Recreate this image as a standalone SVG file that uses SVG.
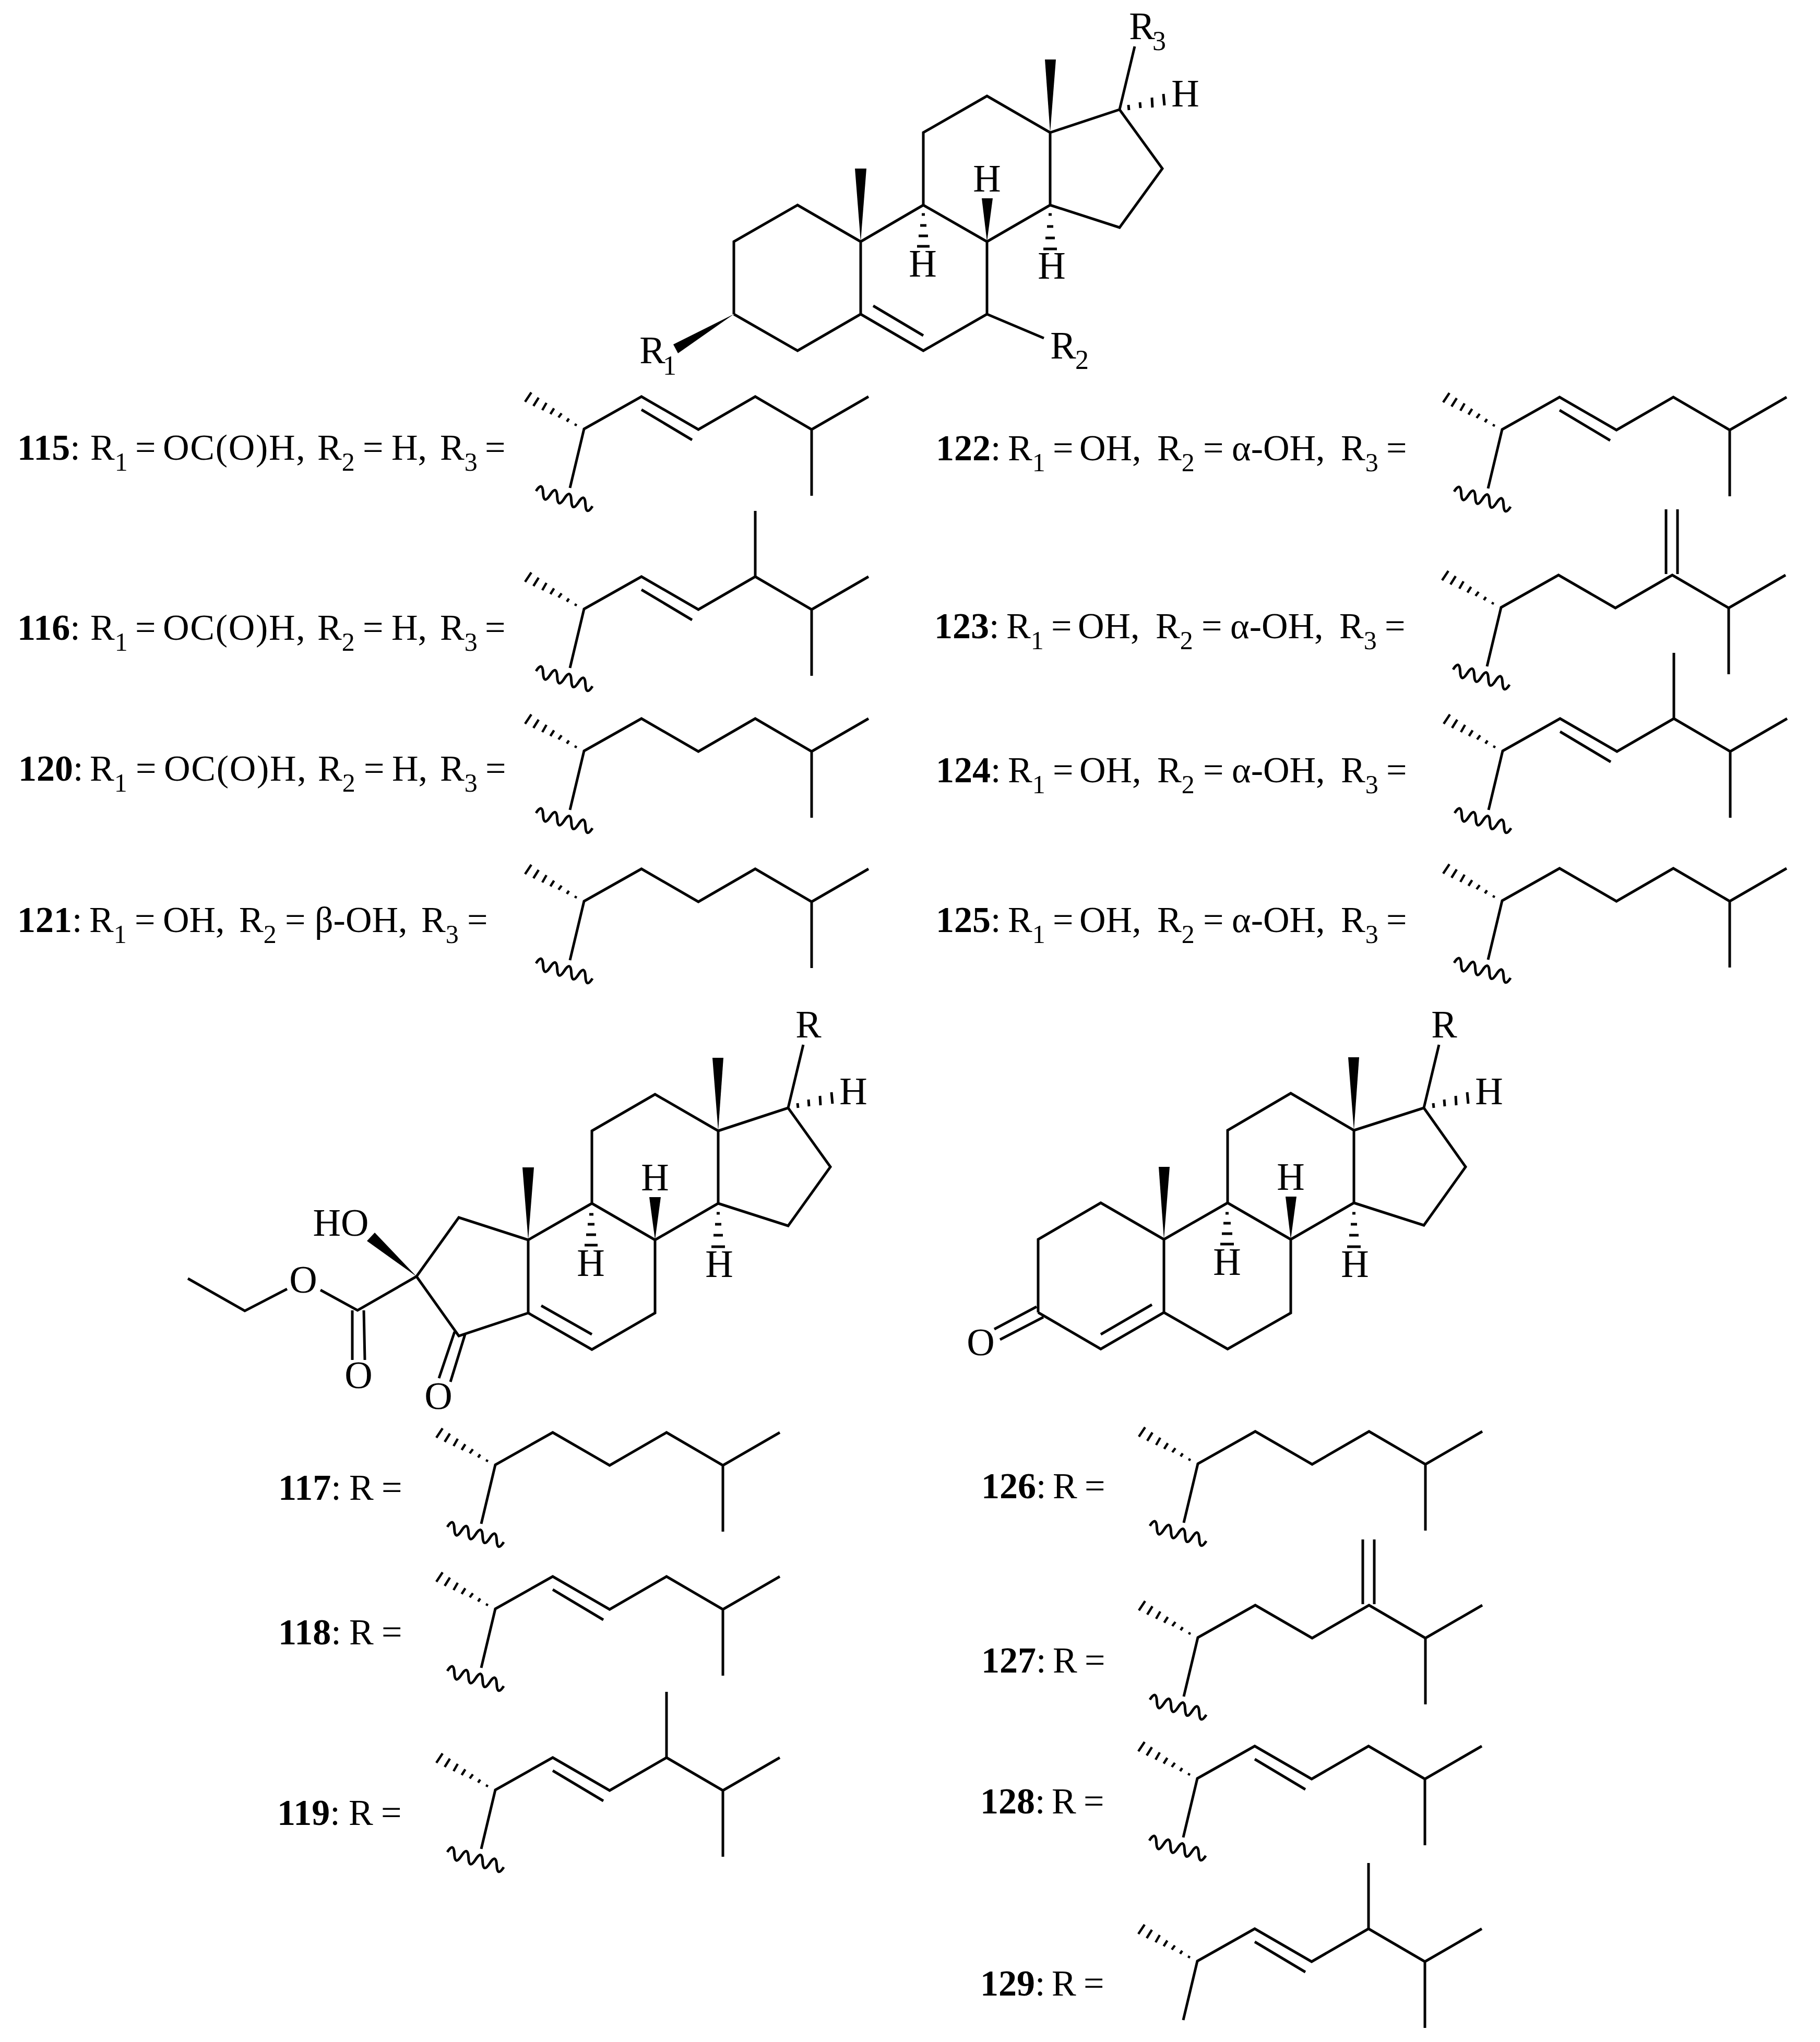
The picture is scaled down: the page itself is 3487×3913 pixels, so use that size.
<svg xmlns="http://www.w3.org/2000/svg" width="3487" height="3913" viewBox="0 0 3487 3913">
<style>
.bond{fill:none;stroke:#000;stroke-width:5}
.thin{stroke-width:4.5}
.wedge{fill:#000;stroke:none}
text{font-family:"Liberation Serif","Times New Roman",serif;fill:#000}
.atom{font-size:74px;text-anchor:middle}
.atoms{font-size:52px}
.lb{font-size:70px}
.b{font-weight:bold}
.s{font-size:50px}
.w{letter-spacing:1.7px}
</style>
<defs>
<path id="sk" class="bond" d="M-27,113L0,0L110,-62L219,1L328,-62L436,1L545,-62M436,1V128"/>
<path id="db" class="bond" d="M110,-37L207,21"/>
<path id="me" class="bond" d="M328,-62V-188"/>
<path id="ch" class="bond" d="M316,-64V-188M338,-64V-188"/>
<path id="ha" class="bond thin" d="M-113,-52L-101,-70M-97,-44L-87,-60M-80,-36L-72,-50M-64.5,-28.500L-57.500,-39.500M-49,-22L-43,-30M-33,-14L-29,-20M-17,-6L-15,-10"/>
<path id="wv" class="bond" transform="translate(-92,119) rotate(15)" d="M0,0q7,-22 14,0t14,0t14,0t14,0t14,0t14,0t14,0t14,0"/>
</defs>

<g id="steroid-a">
<path class="bond" d="M1406,602L1406,463L1528,393L1649,463L1769,393L1891,463L2012,393L2012,254L1891,184L1769,254L1769,393M1649,463L1649,602L1528,672L1406,602M1649,602L1769,672L1891,602L1891,463M2012,254L2145,210L2227,323L2145,436L2012,393M1673,586L1769,643M1891,602L2000,648M2145,210L2174,89"/>
<polygon class="wedge" points="1649,463 1638,323 1660,323"/>
<polygon class="wedge" points="2012,254 2002,114 2023,114"/>
<polygon class="wedge" points="1891,463 1881,380 1902,380"/>
<polygon class="wedge" points="1406,602 1290,660 1299,677"/>
<path class="bond" d="M1766,411H1772M1763,432H1775M1760,452H1778M1757,472H1781M2009,411H2015M2006,434H2018M2003,456H2021M1999,477H2025M2162,201L2163,211M2184,196L2185,207M2207,187L2208,206M2229,180L2231,202"/>
<text class="atom" x="1891" y="367">H</text>
<text class="atom" x="1768" y="530">H</text>
<text class="atom" x="2015" y="534">H</text>
<text class="atom" x="2271" y="204">H</text>
<text class="atom" x="1250" y="696">R</text><text class="atoms" x="1270" y="718">1</text>
<text class="atom" x="2037" y="687">R</text><text class="atoms" x="2060" y="707">2</text>
<text class="atom" x="2188" y="75">R</text><text class="atoms" x="2208" y="96">3</text>
</g>

<g id="labels-r123">
<text class="lb" x="33" y="881"><tspan class="b">115</tspan>:<tspan x="173">R</tspan><tspan class="s" dy="21">1</tspan><tspan x="259" dy="-21">=</tspan><tspan x="312" class="w">OC(O)H,</tspan><tspan x="608">R</tspan><tspan class="s" dy="21">2</tspan><tspan x="695" dy="-21">=</tspan><tspan x="750">H,</tspan><tspan x="843">R</tspan><tspan class="s" dy="21">3</tspan><tspan x="929" dy="-21">=</tspan></text>
<text class="lb" x="33" y="1226"><tspan class="b">116</tspan>:<tspan x="173">R</tspan><tspan class="s" dy="21">1</tspan><tspan x="259" dy="-21">=</tspan><tspan x="312" class="w">OC(O)H,</tspan><tspan x="608">R</tspan><tspan class="s" dy="21">2</tspan><tspan x="695" dy="-21">=</tspan><tspan x="750">H,</tspan><tspan x="843">R</tspan><tspan class="s" dy="21">3</tspan><tspan x="929" dy="-21">=</tspan></text>
<text class="lb" x="35" y="1496"><tspan class="b">120</tspan>:<tspan x="172">R</tspan><tspan class="s" dy="21">1</tspan><tspan x="260" dy="-21">=</tspan><tspan x="314" class="w">OC(O)H,</tspan><tspan x="609">R</tspan><tspan class="s" dy="21">2</tspan><tspan x="697" dy="-21">=</tspan><tspan x="751">H,</tspan><tspan x="843">R</tspan><tspan class="s" dy="21">3</tspan><tspan x="930" dy="-21">=</tspan></text>
<text class="lb" x="33" y="1786"><tspan class="b">121</tspan>:<tspan x="171">R</tspan><tspan class="s" dy="21">1</tspan><tspan x="258" dy="-21">=</tspan><tspan x="312">OH,</tspan><tspan x="458">R</tspan><tspan class="s" dy="21">2</tspan><tspan x="546" dy="-21">=</tspan><tspan x="603">β-OH,</tspan><tspan x="807">R</tspan><tspan class="s" dy="21">3</tspan><tspan x="895" dy="-21">=</tspan></text>
<text class="lb" x="1793" y="882"><tspan class="b">122</tspan>:<tspan x="1931">R</tspan><tspan class="s" dy="21">1</tspan><tspan x="2017" dy="-21">=</tspan><tspan x="2068">OH,</tspan><tspan x="2217">R</tspan><tspan class="s" dy="21">2</tspan><tspan x="2305" dy="-21">=</tspan><tspan x="2360">α-OH,</tspan><tspan x="2569">R</tspan><tspan class="s" dy="21">3</tspan><tspan x="2656" dy="-21">=</tspan></text>
<text class="lb" x="1790" y="1223"><tspan class="b">123</tspan>:<tspan x="1928">R</tspan><tspan class="s" dy="21">1</tspan><tspan x="2014" dy="-21">=</tspan><tspan x="2065">OH,</tspan><tspan x="2214">R</tspan><tspan class="s" dy="21">2</tspan><tspan x="2302" dy="-21">=</tspan><tspan x="2357">α-OH,</tspan><tspan x="2566">R</tspan><tspan class="s" dy="21">3</tspan><tspan x="2653" dy="-21">=</tspan></text>
<text class="lb" x="1793" y="1499"><tspan class="b">124</tspan>:<tspan x="1931">R</tspan><tspan class="s" dy="21">1</tspan><tspan x="2017" dy="-21">=</tspan><tspan x="2068">OH,</tspan><tspan x="2217">R</tspan><tspan class="s" dy="21">2</tspan><tspan x="2305" dy="-21">=</tspan><tspan x="2360">α-OH,</tspan><tspan x="2569">R</tspan><tspan class="s" dy="21">3</tspan><tspan x="2656" dy="-21">=</tspan></text>
<text class="lb" x="1793" y="1786"><tspan class="b">125</tspan>:<tspan x="1931">R</tspan><tspan class="s" dy="21">1</tspan><tspan x="2017" dy="-21">=</tspan><tspan x="2068">OH,</tspan><tspan x="2217">R</tspan><tspan class="s" dy="21">2</tspan><tspan x="2305" dy="-21">=</tspan><tspan x="2360">α-OH,</tspan><tspan x="2569">R</tspan><tspan class="s" dy="21">3</tspan><tspan x="2656" dy="-21">=</tspan></text>
</g>

<g id="chain-115" transform="translate(1119,822)"><use href="#sk"/><use href="#ha"/><use href="#wv"/><use href="#db"/></g>
<g id="chain-116" transform="translate(1119,1167)"><use href="#sk"/><use href="#ha"/><use href="#wv"/><use href="#db"/><use href="#me"/></g>
<g id="chain-120" transform="translate(1119,1439)"><use href="#sk"/><use href="#ha"/><use href="#wv"/></g>
<g id="chain-121" transform="translate(1119,1727)"><use href="#sk"/><use href="#ha"/><use href="#wv"/></g>
<g id="chain-122" transform="translate(2878,823)"><use href="#sk"/><use href="#ha"/><use href="#wv"/><use href="#db"/></g>
<g id="chain-123" transform="translate(2876,1164)"><use href="#sk"/><use href="#ha"/><use href="#wv"/><use href="#ch"/></g>
<g id="chain-124" transform="translate(2879,1439)"><use href="#sk"/><use href="#ha"/><use href="#wv"/><use href="#db"/><use href="#me"/></g>
<g id="chain-125" transform="translate(2878,1726)"><use href="#sk"/><use href="#ha"/><use href="#wv"/></g>

<g id="steroid-b">
<path class="bond" d="M798,2446L879,2333L1012,2376L1134,2306L1255,2376L1376,2306L1376,2167L1255,2097L1134,2167L1134,2306M1012,2376V2516L879,2560L798,2446M1012,2516L1134,2586L1255,2516V2376M1037,2502L1134,2557M1376,2167L1510,2123L1591,2236L1510,2349L1376,2306M1510,2123L1539,2002M798,2446L685,2511L614,2472M550,2470L469,2512L360,2450M675,2511V2606M697,2511L699,2606M871,2552L841,2641M891,2557L863,2648"/>
<polygon class="wedge" points="1012,2376 1001,2237 1023,2237"/>
<polygon class="wedge" points="1376,2167 1365,2027 1386,2027"/>
<polygon class="wedge" points="1255,2376 1244,2294 1266,2294"/>
<polygon class="wedge" points="798,2446 703,2378 718,2362"/>
<path class="bond" d="M1129,2327H1137M1126,2346H1139M1123,2366H1142M1120,2386H1145M1373,2325H1379M1370,2346H1382M1367,2367H1385M1363,2389H1389M1528,2114L1529,2123M1549,2107L1550,2120M1571,2100L1572,2118M1593,2093L1595,2115"/>
<text class="atom" x="1255" y="2281">H</text>
<text class="atom" x="1132" y="2445">H</text>
<text class="atom" x="1378" y="2447">H</text>
<text class="atom" x="1635" y="2116">H</text>
<text class="atom" x="1549" y="1988">R</text>
<text class="atom" x="653" y="2368">HO</text>
<text class="atom" x="581" y="2477">O</text>
<text class="atom" x="687" y="2660">O</text>
<text class="atom" x="840" y="2700">O</text>
</g>

<g id="steroid-c">
<path class="bond" d="M1989,2515V2375L2109,2305L2230,2375L2352,2305L2473,2375L2594,2305V2166L2473,2095L2352,2166V2305M2230,2375V2515L2109,2585L1989,2515M2230,2515L2352,2585L2473,2516V2375M2207,2500L2109,2557M2594,2166L2728,2123L2808,2236L2728,2348L2594,2305M2728,2123L2757,2002M1986,2504L1905,2547M1999,2524L1916,2567"/>
<polygon class="wedge" points="2230,2375 2220,2236 2241,2236"/>
<polygon class="wedge" points="2594,2166 2583,2026 2604,2026"/>
<polygon class="wedge" points="2473,2375 2463,2293 2484,2293"/>
<path class="bond" d="M2348,2325H2354M2344,2344H2358M2341,2364H2361M2338,2384H2364M2591,2325H2597M2588,2346H2600M2585,2367H2603M2581,2389H2607M2746,2114L2747,2123M2767,2107L2768,2120M2789,2100L2790,2118M2811,2093L2813,2115"/>
<text class="atom" x="2473" y="2280">H</text>
<text class="atom" x="2351" y="2443">H</text>
<text class="atom" x="2596" y="2447">H</text>
<text class="atom" x="2853" y="2116">H</text>
<text class="atom" x="2767" y="1988">R</text>
<text class="atom" x="1879" y="2597">O</text>
</g>

<g id="labels-r">
<text class="lb" x="533" y="2874"><tspan class="b">117</tspan>:<tspan x="669">R</tspan><tspan x="731">=</tspan></text>
<text class="lb" x="533" y="3151"><tspan class="b">118</tspan>:<tspan x="669">R</tspan><tspan x="731">=</tspan></text>
<text class="lb" x="531" y="3497"><tspan class="b">119</tspan>:<tspan x="668">R</tspan><tspan x="730">=</tspan></text>
<text class="lb" x="1880" y="2871"><tspan class="b">126</tspan>:<tspan x="2017">R</tspan><tspan x="2078">=</tspan></text>
<text class="lb" x="1880" y="3205"><tspan class="b">127</tspan>:<tspan x="2017">R</tspan><tspan x="2078">=</tspan></text>
<text class="lb" x="1878" y="3475"><tspan class="b">128</tspan>:<tspan x="2015">R</tspan><tspan x="2076">=</tspan></text>
<text class="lb" x="1878" y="3824"><tspan class="b">129</tspan>:<tspan x="2015">R</tspan><tspan x="2076">=</tspan></text>
</g>

<g id="chain-117" transform="translate(949,2807)"><use href="#sk"/><use href="#ha"/><use href="#wv"/></g>
<g id="chain-118" transform="translate(949,3083)"><use href="#sk"/><use href="#ha"/><use href="#wv"/><use href="#db"/></g>
<g id="chain-119" transform="translate(949,3430)"><use href="#sk"/><use href="#ha"/><use href="#wv"/><use href="#db"/><use href="#me"/></g>
<g id="chain-126" transform="translate(2295,2805)"><use href="#sk"/><use href="#ha"/><use href="#wv"/></g>
<g id="chain-127" transform="translate(2295,3138)"><use href="#sk"/><use href="#ha"/><use href="#wv"/><use href="#ch"/></g>
<g id="chain-128" transform="translate(2294,3408)"><use href="#sk"/><use href="#ha"/><use href="#wv"/><use href="#db"/></g>
<g id="chain-129" transform="translate(2294,3758)"><use href="#sk"/><use href="#ha"/><use href="#db"/><use href="#me"/></g>
</svg>
